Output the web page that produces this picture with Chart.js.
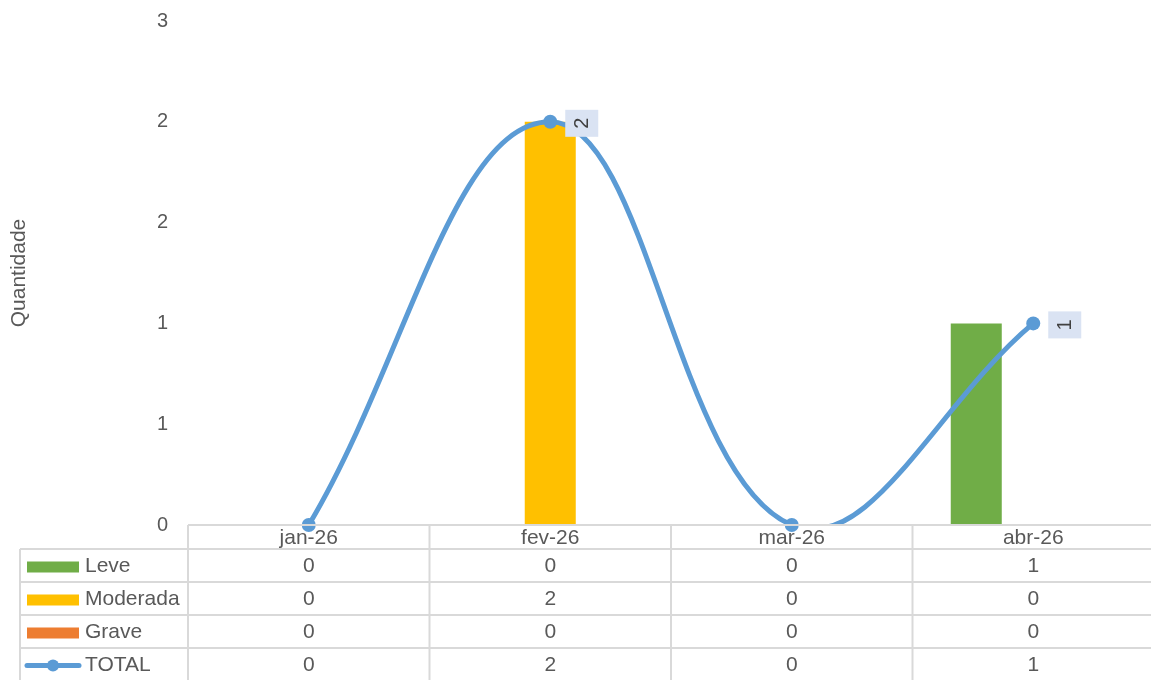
<!DOCTYPE html>
<html>
<head>
<meta charset="utf-8">
<script src="https://cdn.jsdelivr.net/npm/chart.js@4"></script>
<style>
    html, body { margin: 0; padding: 0; background: #ffffff; overflow: hidden; }
    canvas { display: block; }
</style>
</head>
<body>
<canvas id="chart1" width="1161" height="680"></canvas>
<script>
const months = ['jan-26', 'fev-26', 'mar-26', 'abr-26'];
const leve = [0, 0, 0, 1];
const moderada = [0, 2, 0, 0];
const grave = [0, 0, 0, 0];
const total = [0, 2, 0, 1];

const textColor = '#595959';
const gridColor = '#d9d9d9';
const blue = '#5b9bd5';
const fontFamily = '"Liberation Sans", Arial, sans-serif';

// data table under the plot (Excel style)
const tablePlugin = {
    id: 'dataTable',
    afterDraw(chart) {
        const ctx = chart.ctx;
        const area = chart.chartArea;
        const n = chart.data.labels.length;
        const colW = (area.right - area.left) / n;
        const top = area.bottom;
        const headerH = 24;
        const rowH = 33;
        const leftEdge = 20;
        const rows = chart.data.datasets
            .filter(d => d.tableRow !== undefined)
            .sort((a, b) => a.tableRow - b.tableRow);

        ctx.save();
        ctx.strokeStyle = gridColor;
        ctx.lineWidth = 2;
        ctx.beginPath();
        ctx.moveTo(area.left, top);
        ctx.lineTo(area.right + 5, top);
        for (let r = 0; r <= rows.length; r++) {
            const y = top + headerH + r * rowH;
            ctx.moveTo(leftEdge, y);
            ctx.lineTo(area.right + 5, y);
        }
        ctx.moveTo(leftEdge, top + headerH);
        ctx.lineTo(leftEdge, top + headerH + rows.length * rowH);
        for (let c = 0; c <= n; c++) {
            const x = area.left + c * colW;
            ctx.moveTo(x, top);
            ctx.lineTo(x, top + headerH + rows.length * rowH);
        }
        ctx.stroke();

        ctx.fillStyle = textColor;
        ctx.font = '21px ' + fontFamily;
        ctx.textAlign = 'center';
        ctx.textBaseline = 'middle';
        chart.data.labels.forEach((lab, i) => {
            ctx.fillText(lab, area.left + (i + 0.5) * colW, top + headerH / 2 + 1);
        });

        rows.forEach((ds, r) => {
            const cy = top + headerH + r * rowH + rowH / 2 + 1;
            // legend key
            if (ds.type === 'line') {
                ctx.strokeStyle = ds.borderColor;
                ctx.lineWidth = 5;
                ctx.lineCap = 'round';
                ctx.beginPath();
                ctx.moveTo(27, cy);
                ctx.lineTo(79, cy);
                ctx.stroke();
                ctx.fillStyle = ds.borderColor;
                ctx.beginPath();
                ctx.arc(53, cy, 6, 0, Math.PI * 2);
                ctx.fill();
            } else {
                ctx.fillStyle = ds.backgroundColor;
                ctx.fillRect(27, cy - 5, 52, 11);
            }
            ctx.fillStyle = textColor;
            ctx.textAlign = 'left';
            ctx.fillText(ds.label, 85, cy);
            ctx.textAlign = 'center';
            ds.data.forEach((v, i) => {
                ctx.fillText(String(v), area.left + (i + 0.5) * colW, cy);
            });
        });
        ctx.restore();
    }
};

// rotated value labels next to the TOTAL points
const totalLabels = {
    id: 'totalLabels',
    afterDatasetsDraw(chart) {
        const ctx = chart.ctx;
        chart.data.datasets.forEach((ds, di) => {
            if (!ds.valueLabels) return;
            const meta = chart.getDatasetMeta(di);
            meta.data.forEach((pt, i) => {
                const v = ds.data[i];
                if (!v) return;
                const bx = pt.x + 15;
                const by = pt.y - 12;
                ctx.save();
                ctx.fillStyle = '#dae3f3';
                ctx.fillRect(bx, by, 33, 27);
                ctx.translate(bx + 16.5, by + 13.5);
                ctx.rotate(-Math.PI / 2);
                ctx.fillStyle = '#404040';
                ctx.font = '20px ' + fontFamily;
                ctx.textAlign = 'center';
                ctx.textBaseline = 'middle';
                ctx.fillText(String(v), 0, 1);
                ctx.restore();
            });
        });
    }
};

const ctx1 = document.getElementById('chart1').getContext('2d');
const chart1 = new Chart(ctx1, {
    type: 'bar',
    data: {
        labels: months,
        datasets: [{
            // markers of TOTAL, drawn without clipping
            type: 'line',
            label: 'TOTAL',
            data: total,
            order: 0,
            showLine: false,
            clip: false,
            valueLabels: true,
            pointRadius: 7,
            pointBackgroundColor: blue,
            pointBorderColor: blue,
            pointBorderWidth: 0
        }, {
            type: 'line',
            label: 'TOTAL',
            data: total,
            tableRow: 3,
            order: 0,
            borderColor: blue,
            backgroundColor: blue,
            borderWidth: 5,
            tension: 0.4,
            capBezierPoints: false,
            clip: { left: false, top: false, right: false, bottom: 1 },
            fill: false,
            pointRadius: 0
        }, {
            label: 'Leve',
            data: leve,
            tableRow: 0,
            order: 1,
            backgroundColor: '#70ad47'
        }, {
            label: 'Moderada',
            data: moderada,
            tableRow: 1,
            order: 1,
            backgroundColor: '#ffc000'
        }, {
            label: 'Grave',
            data: grave,
            tableRow: 2,
            order: 1,
            backgroundColor: '#ed7d31'
        }]
    },
    options: {
        responsive: false,
        animation: false,
        layout: {
            padding: { top: 21, bottom: 155, left: 0, right: 1 }
        },
        datasets: {
            bar: {
                categoryPercentage: 0.708,
                barPercentage: 0.895
            }
        },
        scales: {
            x: {
                display: false
            },
            y: {
                min: 0,
                max: 2.5,
                grid: { display: false, drawTicks: false },
                border: { display: false },
                ticks: {
                    stepSize: 0.5,
                    padding: 20,
                    color: textColor,
                    font: { family: fontFamily, size: 20 },
                    callback: (v) => Math.round(v)
                },
                title: {
                    display: true,
                    text: 'Quantidade',
                    color: textColor,
                    font: { family: fontFamily, size: 21 },
                    padding: { top: 7, bottom: 0 }
                },
                afterFit: (scale) => {
                    scale.width = 188;
                    scale.paddingTop = 0;
                    scale.paddingBottom = 0;
                }
            }
        },
        plugins: {
            legend: { display: false },
            tooltip: { enabled: false }
        }
    },
    plugins: [tablePlugin, totalLabels]
});
</script>
</body>
</html>
